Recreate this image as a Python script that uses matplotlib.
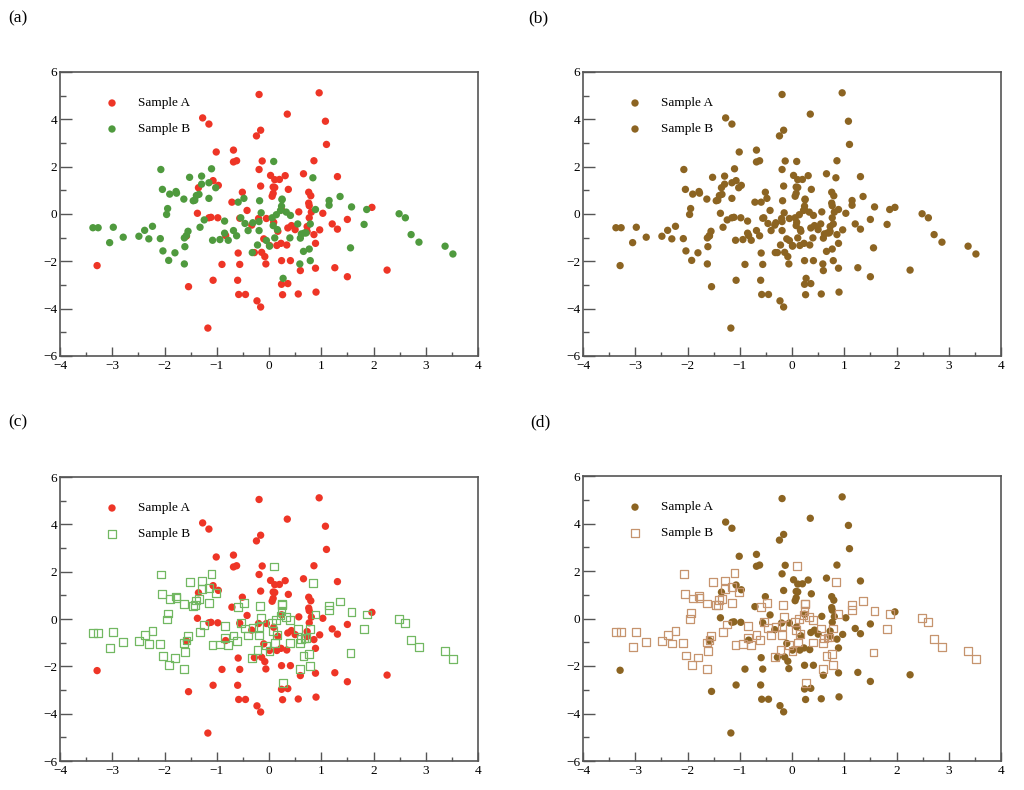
import matplotlib
matplotlib.use("Agg")
import matplotlib.pyplot as plt
from matplotlib.ticker import MultipleLocator
import numpy as np

# ---- data ----
a_x = [-0.19, -1.27, -1.15, -0.16, -0.24, -1.01, -0.68, -0.62, -0.68, -0.13,
       -0.19, 0.03, -1.07, -0.97, -1.35, -0.16, -0.51, -0.71, -0.42, 0.06,
       -1.37, 0.96, 0.35, 1.08, 1.10, 0.86, 0.11, 0.20, 0.31, 0.66,
       1.31, 0.08, 0.11, 0.37, 0.08, 0.76, 0.80, 0.76, 0.77, 1.97,
       0.24, 0.57, 0.81, 1.03, -3.29, -1.15, -1.11, -0.98, -0.83, -1.58,
       -0.59, -0.90, -0.56, -1.07, -0.60, -1.54, -0.58, -0.45, -0.23, -0.16,
       -1.17, -0.56, -0.33, -0.20, -0.05, -0.28, -0.14, -0.10, -0.08, -0.06,
       0.09, 0.36, 0.43, 0.50, 0.17, 0.73, 0.77, 0.86, 0.97, 0.89,
       1.21, 1.31, 1.50, 0.01, 0.15, 0.23, 0.34, 0.24, 0.41, 0.60,
       0.89, 1.26, 1.50, 2.26, 0.24, 0.36, 0.26, 0.56, 0.90, 0.73]
a_y = [5.05, 4.06, 3.80, 3.54, 3.30, 2.62, 2.70, 2.25, 2.20, 2.24,
       1.88, 1.63, 1.41, 1.21, 1.11, 1.18, 0.92, 0.50, 0.15, 0.75,
       0.03, 5.12, 4.22, 3.92, 2.94, 2.25, 1.45, 1.46, 1.62, 1.70,
       1.58, 1.14, 1.12, 1.04, 0.87, 0.92, 0.77, 0.46, 0.35, 0.28,
       0.18, 0.09, 0.08, 0.03, -2.18, -0.16, -0.14, -0.16, -0.91, -0.93,
       -1.65, -2.13, -2.13, -2.80, -2.80, -3.07, -3.40, -3.40, -3.67, -3.93,
       -4.82, -0.18, -0.47, -0.19, -0.19, -1.63, -1.62, -1.05, -1.80, -2.11,
       -0.35, -0.59, -0.49, -0.66, -0.73, -0.53, -0.16, -0.87, -0.67, -1.24,
       -0.42, -0.64, -0.23, -1.33, -1.33, -1.24, -1.31, -1.97, -1.97, -2.39,
       -2.29, -2.27, -2.65, -2.37, -2.97, -2.94, -3.41, -3.38, -3.30, -0.74]

b_x = [-2.07, -2.04, -1.90, -1.78, -1.77, -1.63, -1.52, -1.29, -1.10, -1.29,
       -1.15, -1.02, -1.39, -1.34, -1.42, -1.45, -1.15, -1.94, -1.96, -0.59,
       -0.48, -0.18, -0.15, 0.09, 0.84, 0.25, 0.24, 1.15, 1.15, 1.36,
       0.89, 1.58, 1.87, 2.49, -3.37, -3.27, -2.98, -3.05, -2.79, -2.49,
       -2.38, -2.30, -2.23, -2.08, -2.03, -1.92, -1.80, -1.62, -1.61, -1.62,
       -1.58, -1.55, -1.32, -1.24, -1.08, -0.94, -0.85, -0.85, -0.78, -0.68,
       -0.62, -0.54, -0.46, -0.40, -0.31, -0.19, -0.19, -0.22, -0.32, -0.05,
       2.61, 2.72, 2.87, 3.37, 3.52, 1.82, 1.56, 0.14, 0.06, 0.33,
       0.41, 0.08, 0.16, 0.55, 0.79, 0.40, 0.11, 0.01, 0.62, 0.68,
       0.71, 0.60, 0.66, 0.77, 0.59, 0.79, 0.27, 0.22, 0.25]
b_y = [1.88, 1.04, 0.84, 0.95, 0.88, 0.63, 1.55, 1.60, 1.91, 1.26,
       1.32, 1.11, 0.78, 0.83, 0.58, 0.56, 0.66, 0.23, -0.02, 0.50,
       0.66, 0.56, 0.05, 2.22, 1.53, 0.63, 0.33, 0.57, 0.37, 0.74,
       0.19, 0.30, 0.19, 0.01, -0.58, -0.58, -0.56, -1.21, -0.98, -0.94,
       -0.69, -1.05, -0.52, -1.04, -1.56, -1.96, -1.64, -2.11, -1.38, -1.01,
       -0.91, -0.73, -0.56, -0.25, -1.11, -1.08, -0.30, -0.81, -1.11, -0.70,
       -0.92, -0.16, -0.40, -0.70, -0.37, -0.32, -0.70, -1.31, -1.63, -1.12,
       -0.16, -0.87, -1.19, -1.36, -1.69, -0.44, -1.43, -0.03, -0.16, 0.08,
       -0.06, -0.49, -0.66, -0.42, -0.42, -1.01, -1.01, -1.36, -0.84, -0.80,
       -0.80, -1.02, -1.58, -1.48, -2.11, -1.97, -2.72, 0.15, 0.60]

labels = ["Sample A", "Sample B"]
panel_names = ["(a)", "(b)", "(c)", "(d)"]

RED = "#ee3526"
GREEN = "#4f9a3e"
BROWN = "#8c6422"
LGREEN = "#72b862"
LBROWN = "#c6946e"

FONT = "Liberation Serif"
plt.rcParams["font.family"] = [FONT, "DejaVu Serif"]
plt.rcParams["axes.unicode_minus"] = True

fig = plt.figure(figsize=(10.24, 7.90), dpi=100)
W, H = 1024.0, 790.0

def make_ax(l, r, t, b):
    return fig.add_axes([l / W, 1 - b / H, (r - l) / W, (b - t) / H])

boxes = [(60, 478, 72, 356), (583, 1001, 72, 356),
         (60, 478, 477, 761), (583, 1001, 476, 761)]
label_pos = [(8, 18), (528, 18), (8, 422), (530, 422)]

styles = [
    (dict(marker="o", color=RED, filled=True), dict(marker="o", color=GREEN, filled=True)),
    (dict(marker="o", color=BROWN, filled=True), dict(marker="o", color=BROWN, filled=True)),
    (dict(marker="o", color=RED, filled=True), dict(marker="s", color=LGREEN, filled=False)),
    (dict(marker="o", color=BROWN, filled=True), dict(marker="s", color=LBROWN, filled=False)),
]

S_FILLED = 28
S_OPEN = 32

def draw(ax, x, y, st, **kw):
    if st["filled"]:
        ax.scatter(x, y, s=S_FILLED, marker=st["marker"], color=st["color"],
                   edgecolors="none", **kw)
    else:
        ax.scatter(x, y, s=S_OPEN, marker=st["marker"], facecolors="none",
                   edgecolors=st["color"], linewidths=0.9, **kw)

FRAME = "#555555"
for i, (box, (sa, sb)) in enumerate(zip(boxes, styles)):
    ax = make_ax(*box)
    draw(ax, a_x, a_y, sa, zorder=3)
    draw(ax, b_x, b_y, sb, zorder=4)
    ax.set_xlim(-4, 4)
    ax.set_ylim(-6, 6)
    ax.xaxis.set_major_locator(MultipleLocator(1))
    ax.xaxis.set_minor_locator(MultipleLocator(0.5))
    ax.yaxis.set_major_locator(MultipleLocator(2))
    ax.yaxis.set_minor_locator(MultipleLocator(1))
    for sp in ax.spines.values():
        sp.set_color(FRAME)
        sp.set_linewidth(1.2)
    ax.tick_params(axis="x", which="major", direction="in", length=6.5, width=1.0,
                   color=FRAME, labelsize=9.5, pad=3, top=False)
    ax.tick_params(axis="x", which="minor", direction="in", length=3, width=1.0,
                   color=FRAME, top=False)
    ax.tick_params(axis="y", which="major", direction="in", length=8.5, width=1.0,
                   color=FRAME, labelsize=9.5, pad=2, right=False)
    ax.tick_params(axis="y", which="minor", direction="in", length=4.5, width=1.0,
                   color=FRAME, right=False)
    for lab in ax.get_xticklabels() + ax.get_yticklabels():
        lab.set_fontfamily(FONT)

    ly = [1 - (103 - 72) / 284.0, 1 - (129 - 72) / 284.0]
    for st, yy, txt in zip((sa, sb), ly, labels):
        if st["filled"]:
            ax.scatter([52 / 418.0], [yy], s=S_FILLED, marker=st["marker"], color=st["color"],
                       edgecolors="none", transform=ax.transAxes, clip_on=False, zorder=5)
        else:
            ax.scatter([52 / 418.0], [yy], s=S_OPEN, marker=st["marker"], facecolors="none",
                       edgecolors=st["color"], linewidths=0.9, transform=ax.transAxes,
                       clip_on=False, zorder=5)
        ax.text(78 / 418.0, yy, txt, transform=ax.transAxes, fontsize=9.5,
                va="center", ha="left", family=FONT)

for name, (px, py) in zip(panel_names, label_pos):
    fig.text(px / W, 1 - py / H, name, fontsize=12.5, family=FONT,
             ha="left", va="center")

fig.savefig("out.png", dpi=100)
